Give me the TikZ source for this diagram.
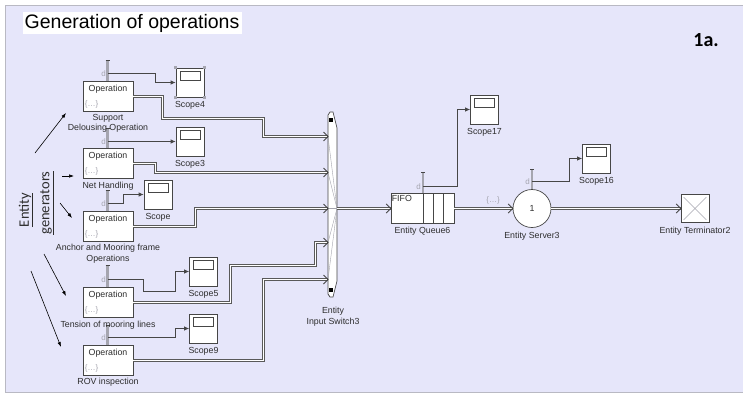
\documentclass[tikz,border=0pt]{standalone}
\usepackage{fontspec}
\setmainfont{Liberation Sans}
\newfontfamily\calibri{Carlito}
\usetikzlibrary{arrows.meta,positioning,calc}
\definecolor{bgl}{RGB}{230,230,250}
\definecolor{frame}{RGB}{185,185,195}
\definecolor{edge}{RGB}{70,70,70}
\definecolor{txt}{RGB}{45,45,45}
\definecolor{lgray}{RGB}{165,165,175}
\tikzset{
  blk/.style={draw=edge, fill=white, line width=0.7pt, inner sep=0pt},
  opblock/.style={blk, minimum width=50pt, minimum height=30pt},
  scopeblk/.style={blk, minimum width=28pt, minimum height=29pt},
  lbl/.style={font=\fontsize{8.8}{10.5}\selectfont, text=txt, align=center, inner sep=1pt},
  small/.style={font=\fontsize{8.8}{10}\selectfont, text=txt, inner sep=0pt},
  dots/.style={font=\fontsize{8}{9}\selectfont, text=lgray, inner sep=0pt},
  sig/.style={draw=edge, line width=0.75pt, -{Latex[length=5pt,width=4.5pt]}},
  ent/.style={draw=edge!90, line width=1pt, double=white, double distance=1pt},
  chev/.style={draw=edge, line width=0.9pt, line join=miter},
  stub/.style={draw=lgray, line width=2.2pt},
  gen/.style={black, line width=0.6pt, -{Latex[length=5pt,width=3.5pt]}},
}
\newcommand\OpBlk[3]{%
  \node[opblock] (#1) at (#2,#3) {};
  \node[small, anchor=north] at ([yshift=-4pt]#1.north) {Operation};
  \node[dots, anchor=south west] at ([xshift=2pt,yshift=3pt]#1.south west) {\{…\}};
}
\newcommand\ScopeBlk[3]{%
  \node[scopeblk] (#1) at (#2,#3) {};
  \draw[edge, line width=0.6pt, fill=white] ([xshift=-10pt,yshift=-4pt]#1.north) rectangle ([xshift=10pt,yshift=-13pt]#1.north);
}
\newcommand\Stub[3]{% x, ytop, ybottom
  \draw[stub] (#1,#2) -- (#1,#3);
  \draw[edge, line width=1pt] (#1-2,#2) -- (#1+2,#2);
}
\newcommand\Chev[1]{%
  \draw[chev] ([shift={(-4.5pt,4.5pt)}]#1) -- (#1) -- ([shift={(-4.5pt,-4.5pt)}]#1);
}
\begin{document}
\begin{tikzpicture}[x=1pt,y=-1pt]
\useasboundingbox (0,0) rectangle (743,394);
\fill[white] (0,0) rectangle (743,394);
\fill[bgl] (5,5) rectangle (743,392);
\draw[frame, line width=1pt] (743,5) -- (5,5) -- (5,392) -- (743,392);

% title
\fill[white] (23,12) rectangle (242,34);
\node[anchor=west, inner sep=0pt, font=\fontsize{19.5}{22}\selectfont] (title) at (24.5,23) {Generation of operations};
\node[anchor=east, inner sep=0pt, font=\calibri\bfseries\fontsize{20}{22}\selectfont] (tag) at (719,40) {1a.};

% entity generators text
\node[rotate=90, inner sep=0pt, font=\calibri\fontsize{14.5}{16}\selectfont, text=txt] (entw) at (26,210) {\underline{Entity}};
\node[rotate=90, inner sep=0pt, font=\calibri\fontsize{14.5}{16}\selectfont, text=txt] (genw) at (47,203) {\underline{generators}};

% generator arrows
\coordinate (a1s) at (35,153); \coordinate (a1e) at (66,113);
\coordinate (a2s) at (62,176); \coordinate (a2e) at (74,176);
\coordinate (a3s) at (60,203); \coordinate (a3e) at (72,218);
\coordinate (a4s) at (44,254); \coordinate (a4e) at (66,296);
\coordinate (a5s) at (31,271); \coordinate (a5e) at (61,347);
\draw[gen] (a1s) -- (a1e);
\draw[gen] (a2s) -- (a2e);
\draw[gen] (a3s) -- (a3e);
\draw[gen] (a4s) -- (a4e);
\draw[gen] (a5s) -- (a5e);

% stubs
\Stub{107.5}{60}{81}
\Stub{107.5}{128}{148}
\Stub{107.5}{190}{211}
\Stub{107.5}{265}{287}
\Stub{107.5}{325}{345}
\Stub{423}{172}{193}
\Stub{532}{169}{190}

% operation blocks
\OpBlk{op1}{108}{96.5}
\OpBlk{op2}{108}{163.5}
\OpBlk{op3}{108}{226.5}
\OpBlk{op4}{108}{302.5}
\OpBlk{op5}{108}{360.5}
\node[lbl, anchor=north] (l1) at (108,113) {Support\\Delousing Operation};
\node[lbl, anchor=north] (l2) at (108,181) {Net Handling};
\node[lbl, anchor=north] (l3) at (108,243) {Anchor and Mooring frame\\Operations};
\node[lbl, anchor=north] (l4) at (108,320) {Tension of mooring lines};
\node[lbl, anchor=north] (l5) at (108,377) {ROV inspection};

% d ports
\coordinate (d1) at (108,73.5);
\coordinate (d2) at (108,141.5);
\coordinate (d3) at (108,203.5);
\coordinate (d4) at (108,279.5);
\coordinate (d5) at (108,337.5);
\coordinate (dq) at (423,186.5);
\coordinate (ds) at (532,181.5);
\foreach \p in {d1,d2,d3,d4,d5,dq,ds}{\node[dots, anchor=east] at ([xshift=-2pt]\p) {d};}

% scopes
\ScopeBlk{sc4}{190}{82.5}
\ScopeBlk{sc3}{190}{141.5}
\ScopeBlk{sc}{158}{194.5}
\ScopeBlk{sc5}{203.5}{271.5}
\ScopeBlk{sc9}{203.5}{328.5}
\ScopeBlk{sc17}{484.5}{109.5}
\ScopeBlk{sc16}{596.5}{158.5}
\foreach \c in {north west,north east,south west,south east}{\fill[lgray] ([xshift=-1.5pt,yshift=-1.5pt]sc4.\c) rectangle ([xshift=1.5pt,yshift=1.5pt]sc4.\c);}
\foreach \s/\t in {sc4/Scope4,sc3/Scope3,sc/Scope,sc5/Scope5,sc9/Scope9,sc17/Scope17,sc16/Scope16}{
  \node[lbl, anchor=north] at ([yshift=-3pt]\s.south) {\t};}

% signal lines
\draw[sig] (d1) -- (155.5,73.5) -- (155.5,82.5) -- (sc4.west);
\draw[sig] (d2) -- (sc3.west);
\draw[sig] (d3) -- (123.5,203.5) -- (123.5,194.5) -- (sc.west);
\draw[sig] (d4) -- (143.5,279.5) -- (143.5,291.5) -- (175.5,291.5) -- (175.5,271.5) -- (sc5.west);
\draw[sig] (d5) -- (175.5,337.5) -- (175.5,328.5) -- (sc9.west);
\draw[sig] (dq) -- (457.5,186.5) -- (457.5,109.5) -- (sc17.west);
\draw[sig] (ds) -- (569.5,181.5) -- (569.5,158.5) -- (sc16.west);

% input switch
\node[minimum width=9pt, minimum height=185pt, inner sep=0pt] (sw) at (332.5,204.5) {};
\coordinate (sw1) at (328,136.5);
\coordinate (sw2) at (328,172.5);
\coordinate (sw3) at (328,208.5);
\coordinate (sw4) at (328,242.5);
\coordinate (sw5) at (328,279.5);
\coordinate (swo) at (337,208.5);
\draw[edge, fill=white, line width=0.7pt] (328,115) -- (330,112) -- (333,112) -- (337,128) -- (337,281) -- (333,297) -- (330,297) -- (328,294) -- cycle;
\foreach \p in {sw1,sw2,sw3,sw4,sw5}{\draw[lgray, line width=0.4pt] (\p) -- (swo);}
\fill[black] (329,118) rectangle (332.5,121.5);
\fill[black] (329,288) rectangle (332.5,291.5);
\node[lbl, anchor=north] at (333,306) {Entity\\Input Switch3};

% queue
\node[blk, minimum width=63pt, minimum height=30pt] (queue) at (422.5,208.5) {};
\draw[edge, line width=0.7pt] (423,193.5) -- (423,223.5) (433,193.5) -- (433,223.5) (443,193.5) -- (443,223.5);
\node[small, anchor=north west] at ([xshift=1pt,yshift=-2pt]queue.north west) {FIFO};
\node[lbl, anchor=north] at ([yshift=-2.5pt]queue.south) {Entity Queue6};

% server
\node[blk, circle, minimum size=38pt] (server) at (532,208.5) {};
\node[small] at (server.center) {1};
\node[lbl, anchor=north] at ([yshift=-3pt]server.south) {Entity Server3};
\node[dots] at (493,200) {\{…\}};

% terminator
\node[blk, minimum size=28pt] (term) at (695,208.5) {};
\draw[lgray, line width=0.6pt] ([shift={(3pt,-3pt)}]term.north west) -- ([shift={(-3pt,3pt)}]term.south east);
\draw[lgray, line width=0.6pt] ([shift={(-3pt,-3pt)}]term.north east) -- ([shift={(3pt,3pt)}]term.south west);
\node[lbl, anchor=north] at ([yshift=-3pt]term.south) {Entity Terminator2};

% entity connections
\draw[ent] (op1.east) -- (162.5,96.5) -- (162.5,118.5) -- (263.5,118.5) -- (263.5,136.5) -- (sw1);
\draw[ent] (op2.east) -- (155.5,163.5) -- (155.5,172.5) -- (sw2);
\draw[ent] (op3.east) -- (195.5,226.5) -- (195.5,208.5) -- (sw3);
\draw[ent] (op4.east) -- (230.5,302.5) -- (230.5,265.5) -- (315.5,265.5) -- (315.5,242.5) -- (sw4);
\draw[ent] (op5.east) -- (263.5,360.5) -- (263.5,279.5) -- (sw5);
\draw[ent] (swo) -- (queue.west);
\draw[ent] (queue.east) -- (server.west);
\draw[ent] (server.east) -- (term.west);
\foreach \p in {sw1,sw2,sw3,sw4,sw5,queue.west,server.west,term.west}{\Chev{\p}}
\end{tikzpicture}
\end{document}
